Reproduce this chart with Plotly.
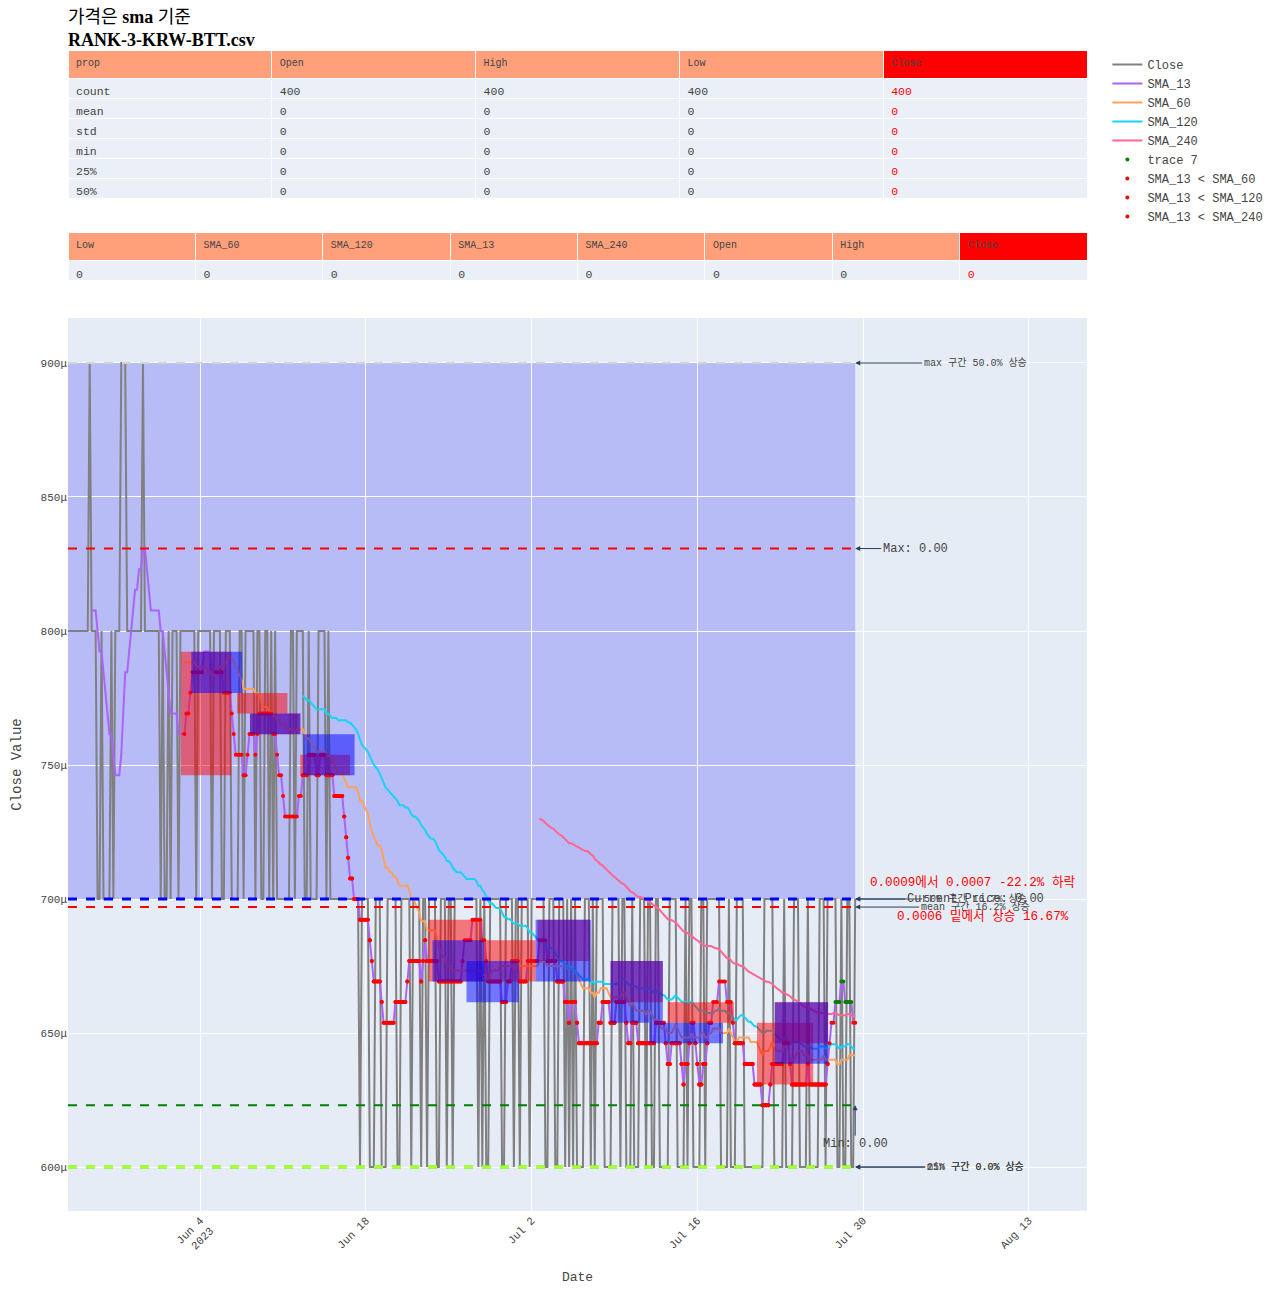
import pandas as pd
import plotly.graph_objects as go

FILE_NAME = "RANK-3-KRW-BTT.csv"
START = "2023-05-23 20:00"
FREQ = "4h"

# Close price in micro-KRW, 4-hour bars
close_ukrw = [
    800, 800, 800, 800, 800, 800, 800, 800, 800, 800, 800, 900, 800,
    800, 800, 700, 700, 800, 700, 700, 700, 700, 800, 700, 800, 800,
    800, 900, 900, 900, 800, 800, 800, 800, 800, 800, 800, 800, 900,
    800, 800, 800, 800, 800, 800, 800, 800, 700, 800, 700, 700, 800,
    700, 800, 800, 800, 700, 800, 800, 800, 800, 800, 800, 800, 800,
    700, 800, 800, 800, 800, 800, 800, 800, 700, 800, 800, 800, 800,
    700, 700, 800, 800, 800, 700, 700, 700, 700, 800, 800, 700, 800,
    800, 800, 800, 800, 700, 800, 800, 700, 700, 800, 800, 700, 800,
    700, 800, 700, 700, 700, 700, 700, 700, 700, 800, 800, 700, 800,
    800, 800, 800, 700, 700, 800, 700, 700, 700, 700, 800, 800, 800,
    800, 700, 800, 700, 700, 700, 700, 700, 700, 700, 700, 700, 700,
    700, 700, 700,
    700, 700, 600, 700, 700, 700, 700, 600, 600, 600, 700, 700, 700,
    600, 600, 600, 700, 700, 700, 700, 700, 600, 600, 700, 700, 700,
    700, 700, 600, 700, 700, 700, 700, 600, 700, 700, 600, 700, 700,
    700, 700, 600, 600, 700, 700, 700, 600, 700, 700, 600, 700, 700,
    700, 700, 700, 700, 700, 700, 700, 700, 700, 700, 600, 700, 600,
    700, 600, 600, 700, 700, 700, 700, 700, 700, 600, 600, 700, 700,
    700, 700, 600, 700, 700, 600, 700, 700, 700, 700, 600, 700, 700,
    700, 700, 700, 700, 700, 600, 600, 700, 700, 700, 600, 600, 700,
    700, 700, 600, 700, 600, 700, 600, 700, 600, 600, 600, 600, 700,
    700, 700, 600, 700, 600, 700, 700, 700, 700, 600, 600, 600, 600,
    700, 700, 700, 700, 600, 700, 700, 600, 600, 600, 700, 600, 600,
    600, 700, 700, 700, 600, 700, 700, 600, 600, 700, 700, 600, 600,
    600, 600, 600, 700, 700, 700, 700, 600, 600, 600, 600, 700, 600,
    700, 700, 600, 600, 600, 600, 700, 700, 600, 700, 700, 700, 700,
    700, 700, 700, 600, 600, 600, 600, 700, 600, 600, 600, 700, 700,
    700, 700, 600, 600, 600, 600, 600, 600, 600, 600, 600, 600, 700,
    700, 700, 700, 700, 600, 600, 600, 600, 600, 700, 600, 600, 600,
    600, 700, 700, 700, 600, 600, 600, 600, 700, 600, 600, 600, 600,
    600, 700, 700, 700, 600, 700, 700, 700, 700, 700, 600, 600, 700,
    600, 600, 700, 700, 600, 600, 700,
]

# describe() table (values as shown, rounded)
desc_rows = ["count", "mean", "std", "min", "25%", "50%"]
open_desc = [400, 0, 0, 0, 0, 0]
high_desc = [400, 0, 0, 0, 0, 0]
low_desc = [400, 0, 0, 0, 0, 0]

# last-row table
last_cols = ["Low", "SMA_60", "SMA_120", "SMA_13", "SMA_240", "Open", "High", "Close"]
last_low, last_open, last_high = 0, 0, 0

# highlighted zones (dates, micro-KRW)
box_start = ["2023-06-02 09:00", "2023-06-07 03:00", "2023-06-08 05:00", "2023-06-12 11:00",
             "2023-06-23 07:00", "2023-06-27 23:00", "2023-07-02 12:00", "2023-07-08 16:00",
             "2023-07-13 12:00", "2023-07-21 01:00", "2023-07-22 13:00",
             "2023-06-03 06:00", "2023-06-08 05:00", "2023-06-12 17:00", "2023-06-23 15:00",
             "2023-06-26 12:00", "2023-07-02 08:00", "2023-07-08 16:00", "2023-07-11 22:00",
             "2023-07-22 13:00"]
box_end = ["2023-06-06 15:00", "2023-06-11 09:00", "2023-06-12 11:00", "2023-06-16 16:00",
           "2023-06-27 21:00", "2023-07-02 08:00", "2023-07-06 22:00", "2023-07-13 02:00",
           "2023-07-19 02:00", "2023-07-25 19:00", "2023-07-27 01:00",
           "2023-06-07 13:00", "2023-06-12 11:00", "2023-06-17 01:00", "2023-06-27 23:00",
           "2023-06-30 22:00", "2023-07-07 00:00", "2023-07-13 02:00", "2023-07-18 04:00",
           "2023-07-27 01:00"]
box_low = [746.2, 769.2, 761.5, 746.2, 669.2, 669.2, 676.9, 661.5, 653.8, 630.8, 646.2,
           776.9, 761.5, 746.2, 669.2, 661.5, 669.2, 653.8, 646.2, 638.5]
box_high = [792.3, 776.9, 769.2, 753.8, 692.3, 684.6, 692.3, 676.9, 661.5, 653.8, 661.5,
            792.3, 769.2, 761.5, 684.6, 676.9, 692.3, 676.9, 653.8, 661.5]
box_color = ["red"] * 11 + ["blue"] * 9

X_END = "2023-08-17 22:00"
Y_RANGE_U = [583.6, 916.8]

# ---------------------------------------------------------------------------
close = [v / 1e6 for v in close_ukrw]
dates = pd.date_range(START, periods=len(close), freq=FREQ)
s = pd.Series(close, index=dates)
sma = {n: s.rolling(n).mean() for n in (13, 60, 120, 240)}

MONO = "Liberation Mono, Courier New, Noto Sans CJK KR, monospace"
TXT = "#444"

fig = go.Figure()

desc = s.describe()
close_desc = [int(round(desc[k])) for k in ["count", "mean", "std", "min", "25%", "50%"]]
fig.add_trace(go.Table(
    domain=dict(x=[0, 1], y=[0.8725, 1.0]),
    header=dict(values=["prop", "Open", "High", "Low", "Close"],
                fill_color=["lightsalmon"] * 4 + ["red"], align="left",
                line_color="white", font=dict(family=MONO, size=10, color=TXT)),
    cells=dict(values=[desc_rows, open_desc, high_desc, low_desc, close_desc],
               fill_color="#EBF0F8", align="left", line_color="white",
               font=dict(family=MONO, size=11.5, color=[TXT] * 4 + ["red"])),
))

last_vals = [last_low, int(round(sma[60].iloc[-1])), int(round(sma[120].iloc[-1])),
             int(round(sma[13].iloc[-1])), int(round(sma[240].iloc[-1])),
             last_open, last_high, int(round(s.iloc[-1]))]
fig.add_trace(go.Table(
    domain=dict(x=[0, 1], y=[0.79, 0.8424]),
    header=dict(values=last_cols, fill_color=["lightsalmon"] * 7 + ["red"], align="left",
                line_color="white", font=dict(family=MONO, size=10, color=TXT)),
    cells=dict(values=[[v] for v in last_vals], fill_color="#EBF0F8", align="left",
               line_color="white", font=dict(family=MONO, size=11.5, color=[TXT] * 7 + ["red"])),
))

fig.add_trace(go.Scatter(x=dates, y=s, mode="lines", name="Close",
                         line=dict(color="gray", width=2)))
sma_colors = {13: "#AB63FA", 60: "#FFA15A", 120: "#19D3F3", 240: "#FF6692"}
for n in (13, 60, 120, 240):
    fig.add_trace(go.Scatter(x=dates, y=sma[n], mode="lines", name=f"SMA_{n}",
                             line=dict(color=sma_colors[n], width=2)))

s13 = sma[13]
golden = (s13 > sma[60]) & (s13 > sma[120]) & (s13 > sma[240])
fig.add_trace(go.Scatter(x=dates[golden], y=s13[golden], mode="markers",
                         marker=dict(color="green", size=4)))
for n in (60, 120, 240):
    cond = s13 < sma[n]
    fig.add_trace(go.Scatter(x=dates[cond], y=s13[cond], mode="markers",
                             name=f"SMA_13 < SMA_{n}", marker=dict(color="red", size=4)))

x0, x1 = dates[0], dates[-1]
cmax, cmin, cmean = s.max(), s.min(), s.mean()
q25, q50 = s.quantile(0.25), s.quantile(0.5)
cur = s.iloc[-1]

# big zone between median and max
fig.add_shape(type="rect", x0=x0, x1=x1, y0=q50, y1=cmax, fillcolor="blue",
              opacity=0.2, line_width=0, layer="below")
for a, b, lo, hi, c in zip(box_start, box_end, box_low, box_high, box_color):
    fig.add_shape(type="rect", x0=a, x1=b, y0=lo / 1e6, y1=hi / 1e6, fillcolor=c,
                  opacity=0.5, line_width=0, layer="above")

hlines = [(cmax, "lightgray", 2), (s13.max(), "red", 2), (q50, "blue", 3),
          (cmean, "red", 2), (s13.min(), "green", 2), (cmin, "lime", 3),
          (q25, "greenyellow", 3)]
for yv, c, w in hlines:
    fig.add_shape(type="line", x0=x0, x1=x1, y0=yv, y1=yv,
                  line=dict(color=c, width=w, dash="dash"))


def pct(v):
    return (v - cmin) / cmin * 100


ann_small = dict(font=dict(family=MONO, size=10, color=TXT), showarrow=True,
                 arrowhead=2, arrowwidth=1, arrowcolor="#2a3f5f", ax=120, ay=0)
for label, v in [("max", cmax), ("50%", q50), ("mean", cmean), ("min", cmin), ("25%", q25)]:
    fig.add_annotation(x=x1, y=v, text=f"{label} 구간 {pct(v):.1f}% 상승", **ann_small)

ann_big = dict(font=dict(family=MONO, size=12, color=TXT), showarrow=True,
               arrowhead=2, arrowwidth=1, arrowcolor="#2a3f5f")
fig.add_annotation(x=x1, y=cur, text=f"Current Price: {cur:.2f}", ax=120, ay=0, **ann_big)
fig.add_annotation(x=x1, y=s13.max(), text=f"Max: {s13.max():.2f}", ax=60, ay=0, **ann_big)
fig.add_annotation(x=x1, y=s13.min(), text=f"Min: {s13.min():.2f}", ax=0, ay=39, **ann_big)

fig.add_annotation(x=x1, y=cur, xanchor="left", xshift=13, yshift=17, showarrow=False,
                   text=f"{cmax:.4f}에서 {cur:.4f} {(cur - cmax) / cmax * 100:.1f}% 하락",
                   font=dict(family=MONO, size=12.6, color="red"))
fig.add_annotation(x=x1, y=cur, xanchor="left", xshift=40, yshift=-17, showarrow=False,
                   text=f"{cmin:.4f} 밑에서 상승 {(cur - cmin) / cmin * 100:.2f}%",
                   font=dict(family=MONO, size=12.6, color="red"))

fig.update_layout(
    width=1280, height=1299,
    margin=dict(l=68, r=193, t=50, b=88),
    template="plotly",
    font=dict(family=MONO, size=12, color=TXT),
    title=dict(text=f"가격은 <b>sma</b> 기준<br><b>{FILE_NAME}</b>", x=0, xref="paper",
               xanchor="left", yref="container", y=0.9825, yanchor="top",
               font=dict(family="Liberation Serif, Times New Roman, Noto Sans CJK KR, serif",
                         size=18, color="black")),
    legend=dict(x=1.02, y=1, xanchor="left", yanchor="top", font=dict(family=MONO, size=12)),
    xaxis=dict(domain=[0, 1], range=[x0, X_END], title=dict(text="Date", font=dict(size=13)),
               tickangle=-45, dtick=14 * 86400000, tick0="2023-06-04",
               tickfont=dict(size=11), automargin=False),
    yaxis=dict(domain=[0, 0.7692], range=[Y_RANGE_U[0] / 1e6, Y_RANGE_U[1] / 1e6],
               dtick=0.00005, tick0=0, title=dict(text="Close Value", font=dict(size=14)),
               tickfont=dict(size=11), automargin=False),
)

fig.write_html("out.html")
